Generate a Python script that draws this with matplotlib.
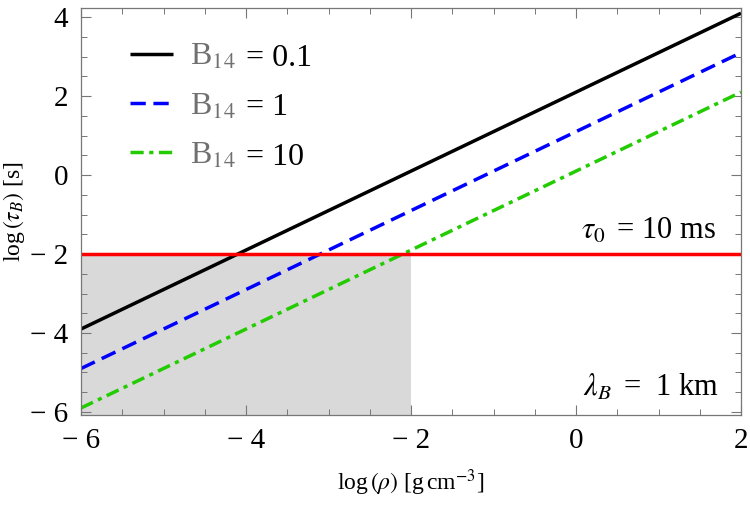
import matplotlib
matplotlib.use('Agg')
from matplotlib import pyplot as plt
from matplotlib.ticker import MultipleLocator, FuncFormatter

plt.rcParams['font.family'] = ['Liberation Serif', 'DejaVu Serif']
plt.rcParams['mathtext.fontset'] = 'stix'

## Data (log rho endpoints and log tau_B values)
log_rho = [-6.0, 2.0]
tau_b01 = [-3.9, 4.1]
tau_b1 = [-4.9, 3.1]
tau_b10 = [-5.9, 2.1]
tau0 = -2.0
shade_x = [-6.0, -2.0]
labels = ['= 0.1', '= 1', '= 10']

fig = plt.figure(figsize=(7.5, 5.05), dpi=100)
ax = fig.add_axes([0.108, 0.178, 0.88, 0.806])

# Shaded region below tau_0
ax.fill_between(shade_x, -10, tau0, color='#d9d9d9', lw=0, zorder=0)

l1, = ax.plot(log_rho, tau_b01, color='black', lw=2.5, solid_capstyle='butt')
l2, = ax.plot(log_rho, tau_b1, color='#0000ff', lw=2.5, dashes=(4.4, 2.2))
l3, = ax.plot(log_rho, tau_b10, color='#22cc00', lw=2.5, dashes=(3.8, 1.6, 1.2, 1.6))
ax.axhline(tau0, color='#ff0000', lw=2.5)

ax.set_xlim(-6, 2)
ax.set_ylim(-6.08, 4.23)

ax.xaxis.set_major_locator(MultipleLocator(2))
ax.xaxis.set_minor_locator(MultipleLocator(0.5))
ax.yaxis.set_major_locator(MultipleLocator(2))
ax.yaxis.set_minor_locator(MultipleLocator(0.5))
fmt = FuncFormatter(lambda v, p: ('\u2212 %d' % abs(v)) if v < 0 else '%d' % v)
ax.xaxis.set_major_formatter(fmt)
ax.yaxis.set_major_formatter(fmt)
ax.tick_params(which='both', direction='in', top=True, right=True,
               color='#777777', labelsize=21)
ax.tick_params(which='major', length=7, width=0.8, pad=9)
ax.tick_params(which='minor', length=4, width=0.7)
for s in ax.spines.values():
    s.set_color('#777777')
    s.set_linewidth(0.9)

ax.set_xlabel(r'log$\,(\rho)$ [g$\,$cm$^{-3}$]', fontsize=17, labelpad=10)
ax.set_ylabel(r'log$\,(\tau_B)$ [s]', fontsize=17, labelpad=2)

ax.text(0.962, 0.416, r'$\tau_0\,$ = 10 ms', transform=ax.transAxes,
        ha='right', va='bottom', fontsize=22)
ax.text(0.967, 0.068, r'$\lambda_B\,$ =  1 km', transform=ax.transAxes,
        ha='right', va='center', fontsize=22)

# Legend: gray B14 followed by black value
leg = ax.legend([l1, l2, l3], ['B$_{14}$'] * 3, loc='upper left',
                bbox_to_anchor=(0.03, 0.985), frameon=False, fontsize=23,
                handlelength=1.35, handletextpad=0.55, labelspacing=0.62)
for txt in leg.get_texts():
    txt.set_color('#707070')

fig.canvas.draw()
for txt, lab in zip(leg.get_texts(), labels):
    bb = txt.get_window_extent()
    x0, y0 = fig.transFigure.inverted().transform((bb.x1 + 10, bb.y0))
    fig.text(x0, y0 + 0.012, lab, ha='left', va='baseline', fontsize=23)

fig.savefig('out.png', dpi=100)
